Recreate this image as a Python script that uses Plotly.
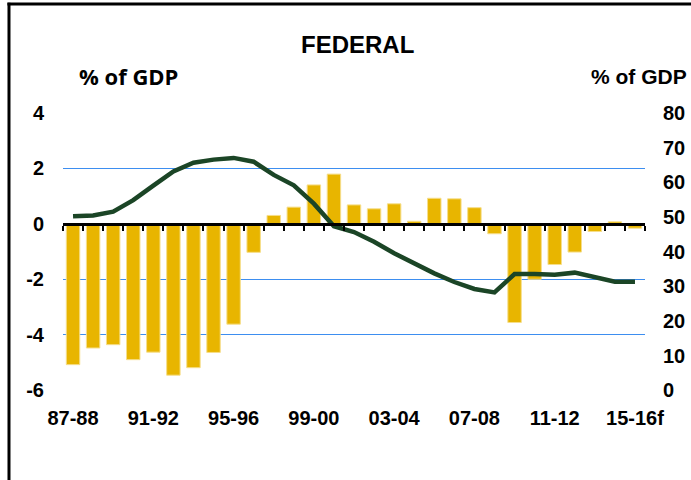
import plotly.graph_objects as go

categories = ["87-88", "88-89", "89-90", "90-91", "91-92", "92-93", "93-94", "94-95",
              "95-96", "96-97", "97-98", "98-99", "99-00", "00-01", "01-02", "02-03",
              "03-04", "04-05", "05-06", "06-07", "07-08", "08-09", "09-10", "10-11",
              "11-12", "12-13", "13-14", "14-15", "15-16f"]

balance = [-5.08, -4.48, -4.36, -4.90, -4.63, -5.46, -5.19, -4.64, -3.62, -1.03,
           0.30, 0.60, 1.40, 1.79, 0.68, 0.54, 0.72, 0.09, 0.92, 0.90,
           0.58, -0.36, -3.56, -2.00, -1.47, -1.02, -0.28, 0.07, -0.16]

debt = [50.2, 50.4, 51.5, 54.8, 59.0, 63.1, 65.6, 66.5, 67.0, 65.9,
        62.1, 59.1, 53.8, 47.3, 45.6, 42.8, 39.5, 36.6, 33.7, 31.2,
        29.2, 28.2, 33.5, 33.5, 33.3, 33.9, 32.6, 31.3, 31.3]

tick_labels = ["87-88", "91-92", "95-96", "99-00", "03-04", "07-08", "11-12", "15-16f"]
left_ticks = [4, 2, 0, -2, -4, -6]
left_text = ["4", "2", "0", "-2", "-4", "-6"]
right_ticks = [80, 70, 60, 50, 40, 30, 20, 10, 0]

BAR = "#E8B500"
LINE = "#1B4526"
GRID = "#3D8EF0"
tfont = dict(family="Liberation Sans, Arial", size=20, color="black", weight="bold")

fig = go.Figure()
fig.add_trace(go.Bar(x=categories, y=balance, marker=dict(color=BAR, line=dict(color="#F6DE8A", width=1)),
                     xaxis="x", yaxis="y", showlegend=False))
fig.add_trace(go.Scatter(x=categories, y=debt, mode="lines", line=dict(color=LINE, width=4.5),
                         xaxis="x", yaxis="y2", showlegend=False))
# invisible trace to register the zero-line axis
fig.add_trace(go.Scatter(x=[None], y=[None], xaxis="x2", yaxis="y", showlegend=False, hoverinfo="skip"))

pad = 0.03
fig.update_layout(
    width=691, height=480,
    margin=dict(l=63, r=46, t=112, b=89),
    paper_bgcolor="white", plot_bgcolor="white",
    bargap=0.33,
    xaxis=dict(type="category", categoryorder="array", categoryarray=categories,
               range=[-0.5, 28.5], tickmode="array", tickvals=tick_labels, ticktext=tick_labels,
               showgrid=False, zeroline=False, showline=False, ticks="", automargin=False,
               tickfont=tfont, ticklabelstandoff=13),
    xaxis2=dict(overlaying="x", anchor="free", position=0.6, range=[-0.5, 28.5], automargin=False,
                showgrid=False, zeroline=False, showline=True, linecolor="black", linewidth=3,
                tickmode="array", tickvals=[i - 0.5 for i in range(len(categories) + 1)],
                ticks="outside", ticklen=5, tickwidth=2, tickcolor="black", showticklabels=False),
    yaxis=dict(range=[-6 - pad, 4 + pad], tickmode="array", tickvals=left_ticks, ticktext=left_text,
               showgrid=True, gridcolor=GRID, gridwidth=1, zeroline=False, showline=False, ticks="",
               automargin=False, tickfont=tfont, ticklabelstandoff=18),
    yaxis2=dict(range=[0 - 8 * pad, 80 + 8 * pad], overlaying="y", side="right", tickmode="array",
                tickvals=right_ticks, showgrid=False, zeroline=False, showline=False, ticks="",
                automargin=False, tickfont=tfont, ticklabelstandoff=17),
    annotations=[
        dict(text="FEDERAL", x=0.506, y=1.2437, xref="paper", yref="paper", showarrow=False,
             xanchor="center", yanchor="middle",
             font=dict(family="Liberation Sans, Arial", size=24, color="black", weight="bold")),
        dict(text="% of GDP", x=0.1134, y=1.129, xref="paper", yref="paper", showarrow=False,
             xanchor="center", yanchor="middle",
             font=dict(family="Open Sans", size=22, color="black", weight="bold")),
        dict(text="% of GDP", x=0.989, y=1.127, xref="paper", yref="paper", showarrow=False,
             xanchor="center", yanchor="middle",
             font=dict(family="Liberation Sans, Arial", size=21, color="black", weight="bold")),
    ],
    shapes=[
        dict(type="line", xref="paper", yref="paper", x0=-0.0928, x1=-0.0928, y0=1.392, y1=-0.35,
             line=dict(color="black", width=3)),
        dict(type="line", xref="paper", yref="paper", x0=-0.0955, x1=1.1, y0=1.387, y1=1.387,
             line=dict(color="black", width=3)),
    ],
)

fig.write_html("out.html", config={"displayModeBar": False},
               post_script="document.body.style.margin='0';document.body.style.overflow='hidden';")
